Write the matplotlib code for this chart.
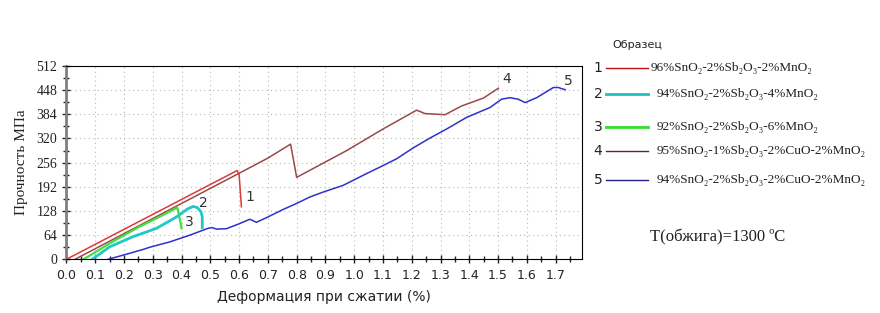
import matplotlib
matplotlib.use('Agg')
import matplotlib.pyplot as plt
from matplotlib.ticker import MultipleLocator

# sample curves: strain (%) vs strength (MPa)
x1 = [0.0, 0.593, 0.600, 0.608]
y1 = [0, 235, 225, 139]

x2 = [0.09, 0.15, 0.232, 0.313, 0.382, 0.42, 0.44, 0.455, 0.468, 0.472, 0.472]
y2 = [0, 33, 60, 82, 112, 133, 140, 137, 125, 112, 84]

x3 = [0.06, 0.15, 0.25, 0.33, 0.385, 0.39, 0.393, 0.397, 0.40]
y3 = [0, 42, 85, 115, 137, 122, 110, 95, 82]

x4 = [0.03, 0.593, 0.70, 0.779, 0.80, 0.974, 1.10, 1.217, 1.246, 1.316, 1.373, 1.449, 1.501]
y4 = [0, 225, 268, 305, 217, 288, 345, 395, 386, 383, 406, 427, 453]

x5 = [0.145, 0.197, 0.266, 0.29, 0.359, 0.429, 0.492, 0.505, 0.522, 0.556, 0.60, 0.637,
      0.66, 0.70, 0.753, 0.80, 0.846, 0.892, 0.962, 1.043, 1.089, 1.147, 1.205, 1.263,
      1.321, 1.391, 1.472, 1.512, 1.541, 1.570, 1.594, 1.634, 1.692, 1.709, 1.733]
y5 = [0, 11, 26, 32, 46, 64, 82, 84, 80, 81, 94, 106, 98, 112, 132, 148, 165, 178, 196,
      227, 244, 266, 295, 321, 345, 376, 402, 424, 428, 424, 415, 428, 455, 455, 449]

curve_labels = ['1', '2', '3', '4', '5']
label_pos_x = [0.638, 0.475, 0.426, 1.531, 1.743]
label_pos_y = [164, 148, 98, 478, 472]

legend_names = ['96%SnO₂-2%Sb₂O₃-2%MnO₂',
                '94%SnO₂-2%Sb₂O₃-4%MnO₂',
                '92%SnO₂-2%Sb₂O₃-6%MnO₂',
                '95%SnO₂-1%Sb₂O₃-2%CuO-2%MnO₂',
                '94%SnO₂-2%Sb₂O₃-2%CuO-2%MnO₂']

serif = ['Liberation Serif', 'DejaVu Serif']

fig = plt.figure(figsize=(8.8, 3.13), dpi=100)
ax = fig.add_axes([0.0755, 0.1716, 0.586, 0.6176])

ax.plot(x4, y4, color='#9a4848', lw=1.1)
ax.plot(x1, y1, color='#e03838', lw=1.1)
ax.plot(x5, y5, color='#3030cc', lw=1.1)
ax.plot(x3, y3, color='#40e040', lw=1.6)
ax.plot(x2, y2, color='#20c8c8', lw=2.0)

for t, lx, ly in zip(curve_labels, label_pos_x, label_pos_y):
    ax.text(lx, ly, t, fontsize=10, color='#333333', ha='center', va='center')

ax.set_xlim(0, 1.792)
ax.set_ylim(0, 512)
ax.xaxis.set_major_locator(MultipleLocator(0.1))
ax.xaxis.set_minor_locator(MultipleLocator(0.05))
ax.yaxis.set_major_locator(MultipleLocator(64))
ax.yaxis.set_minor_locator(MultipleLocator(32))
ax.xaxis.set_major_formatter(plt.FuncFormatter(lambda v, p: '%.1f' % v))
ax.grid(True, which='major', color='#b8b8b8', linestyle=(0, (1, 3)), lw=0.8)
ax.tick_params(which='both', direction='inout', colors='#222222')
ax.tick_params(which='major', length=6, width=1)
ax.tick_params(which='minor', length=4, width=1)
ax.tick_params(axis='x', labelsize=9, pad=4)
ax.tick_params(axis='y', labelsize=10)
for lab in ax.get_yticklabels():
    lab.set_family(serif)
ax.spines['left'].set_color('#808080')
ax.spines['left'].set_linewidth(2)

ax.set_xlabel('Деформация при сжатии (%)', fontsize=10, color='#222222', labelpad=6)
ax.set_ylabel('Прочность МПа', fontsize=11, family=serif, color='#222222', labelpad=6)

# legend drawn as figure text
fig.text(612 / 880, 1 - 45 / 313, 'Образец', fontsize=8, color='#222222', va='center')
leg_colors = ['#c01010', '#20c0c0', '#30e030', '#602828', '#202088']
leg_widths = [1.0, 2.0, 2.0, 1.0, 1.0]
leg_rows = [68, 94, 127, 151, 180]
for i in range(5):
    yy = 1 - leg_rows[i] / 313
    fig.text(598 / 880, yy, curve_labels[i], fontsize=10, color='#222222', ha='center', va='center')
    fig.add_artist(plt.Line2D([606 / 880, 648 / 880], [yy, yy], color=leg_colors[i],
                              lw=leg_widths[i], transform=fig.transFigure))
    fig.text(651 / 880 if i < 1 else 657 / 880, yy, legend_names[i], fontsize=9.5,
             family=serif, color='#222222', va='center')

fig.text(650 / 880, 1 - 237 / 313, 'T(обжига)=1300 ºC', fontsize=12, family=serif,
         color='#222222', va='center')

fig.savefig('out.png', dpi=100)
